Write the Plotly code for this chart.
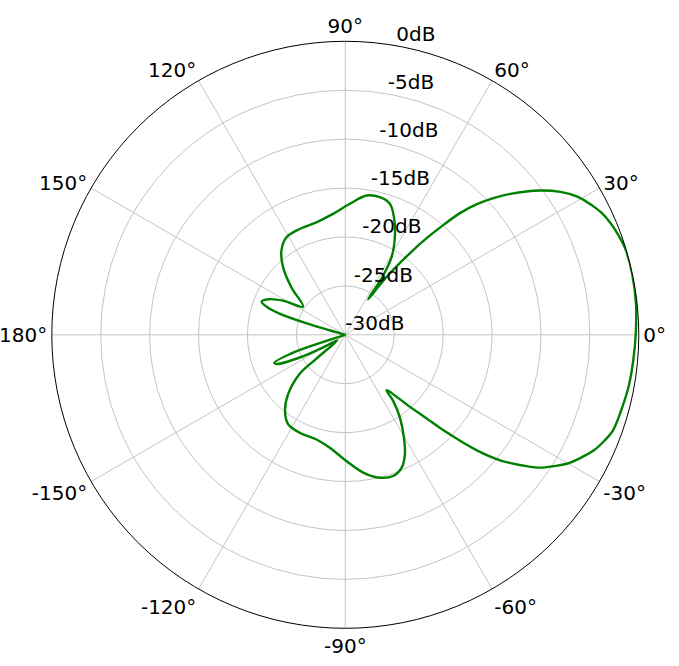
import plotly.graph_objects as go

# Antenna pattern (angle in degrees, gain in dB, clipped at -30 dB)
theta_deg = [-180, -165, -162, -160.8, -158.5, -156.9, -153.5, -149.7, -145, -140.5,
             -139.5, -134, -128.5, -122.6, -115, -105.4, -97.8, -89.5, -82.6, -76.4,
             -71.3, -67, -63.5, -60.3, -56.6, -54.1, -53.3, -48.1, -45.8, -44.2,
             -41.3, -39.6, -38.2, -35.8, -34.3, -32.2, -30.2, -27.6, -25, -22.3,
             -19.7, -15, -10, -5, 0, 6, 12, 17, 20.2, 23,
             25.5, 27.6, 30.8, 33.6, 36.5, 40.5, 42.7, 44.8, 46.7, 48.2,
             49.9, 51.6, 53.6, 55.3, 57.2, 57.4, 59.3, 63.1, 67.5, 71.2,
             75.9, 81.3, 88, 95.8, 104.4, 113.3, 121.1, 127.2, 132.7, 138.7,
             146.4, 151.3, 155, 158.4, 160.6, 162, 163.5, 165.5, 180]
gain_db = [-30, -30, -26.9, -24.0, -22.2, -22.4, -24.8, -27.8, -29.0, -26.1,
           -23.9, -21.6, -20.1, -19.15, -18.96, -18.9, -18.35, -17.1, -15.8, -14.97,
           -14.76, -15.25, -16.35, -17.9, -19.86, -21.66, -22.94, -20.1, -18.07, -16.0,
           -12.1, -10.2, -8.9, -7.0, -5.9, -4.8, -3.8, -2.85, -2.0, -1.4,
           -0.95, -0.75, -0.55, -0.45, -0.32, -0.12, -0.02, -0.05, -0.3, -0.6,
           -1.0, -1.5, -2.4, -3.6, -5.2, -7.81, -9.4, -11.04, -12.91, -14.93,
           -17.09, -19.3, -21.76, -23.7, -25.7, -22.9, -20.7, -18.8, -17.0, -15.86,
           -15.5, -15.6, -16.6, -17.58, -18.13, -18.22, -18.36, -19.2, -20.62, -22.67,
           -24.8, -22.74, -21.4, -20.8, -21.6, -22.8, -25.9, -30, -30]

radial_ticks = [-30, -25, -20, -15, -10, -5, 0]
radial_labels = [f"{v}dB" for v in radial_ticks]
angle_ticks = [0, 30, 60, 90, 120, 150, 180, 210, 240, 270, 300, 330]
angle_labels = ["0°", "30°", "60°", "90°", "120°", "150°", "180°",
                "-150°", "-120°", "-90°", "-60°", "-30°"]
label_angle = 80

W, H = 679, 666
FONT = dict(family="DejaVu Sans", size=20, color="black")
GRID = "#c4c4c4"

fig = go.Figure()
fig.add_trace(go.Scatterpolar(
    r=gain_db, theta=theta_deg, mode="lines",
    line=dict(color="#008000", width=2.4, shape="spline", smoothing=1.0),
    hoverinfo="skip", showlegend=False,
))
fig.add_trace(go.Scatterpolar(
    r=radial_ticks, theta=[label_angle] * len(radial_ticks), mode="text",
    text=radial_labels, textposition="top right", textfont=FONT,
    cliponaxis=False, hoverinfo="skip", showlegend=False,
))

fig.update_layout(
    width=W, height=H,
    margin=dict(l=0, r=0, t=0, b=0, autoexpand=False),
    paper_bgcolor="white",
    template="none",
    font=FONT,
    polar=dict(
        domain=dict(x=[51.8 / W, 638.8 / W], y=[(H - 628.3) / H, (H - 41.3) / H]),
        bgcolor="white",
        radialaxis=dict(
            range=[-30, 0], tickvals=radial_ticks, showticklabels=False,
            ticks="", showline=False, gridcolor=GRID, gridwidth=1,
            angle=label_angle,
        ),
        angularaxis=dict(
            direction="counterclockwise", rotation=0,
            tickvals=angle_ticks, ticktext=angle_labels, ticks="",
            tickfont=FONT, showline=True, linecolor="black", linewidth=1,
            gridcolor=GRID, gridwidth=1,
        ),
    ),
)

fig.write_html(
    "out.html",
    config={"displayModeBar": False},
    post_script="document.body.style.margin='0';document.body.style.overflow='hidden';",
)
